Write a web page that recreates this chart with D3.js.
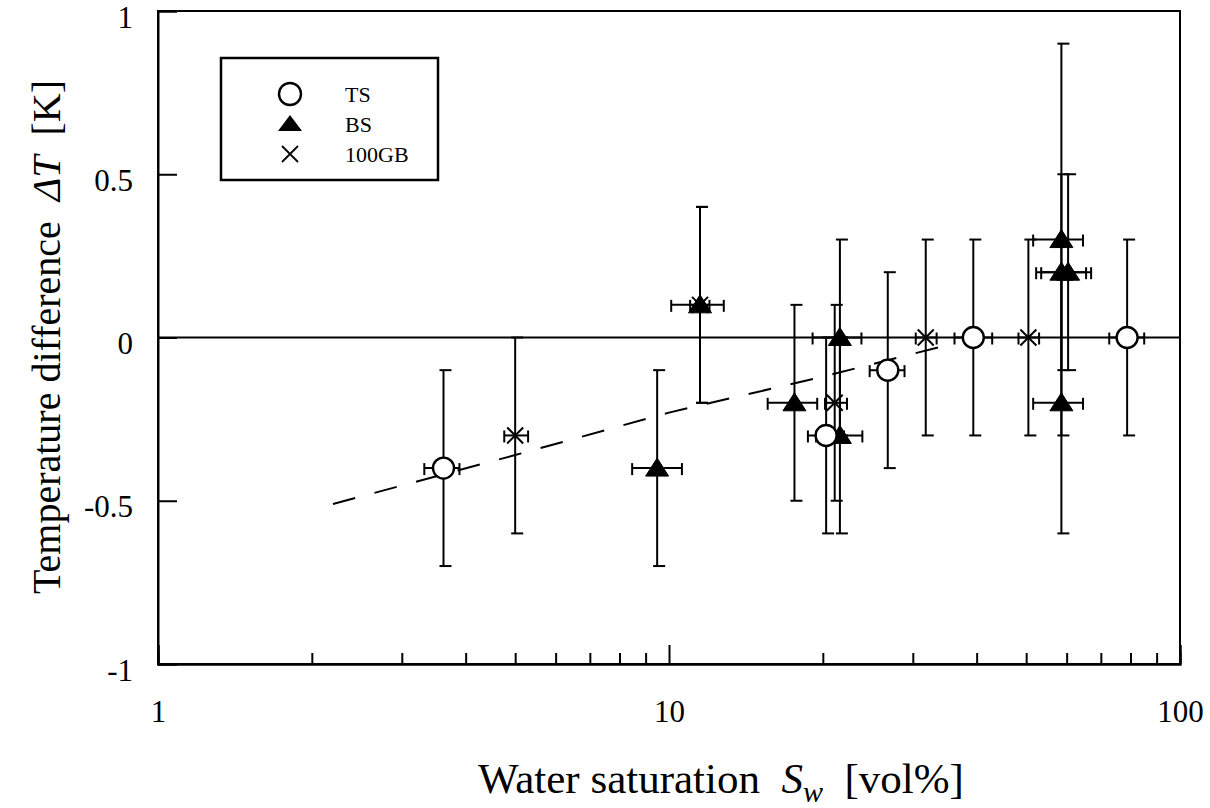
<!DOCTYPE html>
<html>
<head>
<meta charset="utf-8">
<script src="https://cdn.jsdelivr.net/npm/d3@7"></script>
<style>
html,body{margin:0;padding:0;background:#fff;}
svg{display:block;}
text{font-family:"Liberation Serif","Times New Roman",serif;fill:#000;}
</style>
</head>
<body>
<svg id="chart" width="1210" height="808"></svg>
<script>
// ---- data ----
const xTicksMajor = [1, 10, 100];
const xTickLabels = ["1", "10", "100"];
const xTicksMinor = [2,3,4,5,6,7,8,9,20,30,40,50,60,70,80,90];
const yTicks = [-1, -0.5, 0, 0.5, 1];
const yTickLabels = ["-1", "-0.5", "0", "0.5", "1"];

const seriesNames = ["TS", "BS", "100GB"];

// TS (open circles)
const tsX   = [3.62, 20.3, 26.8, 39.4, 78.8];
const tsY   = [-0.4, -0.3, -0.1, 0, 0];
const tsYLo = [-0.7, -0.6, -0.4, -0.3, -0.3];
const tsYHi = [-0.1, 0, 0.2, 0.3, 0.3];
const tsXLo = [3.32, 18.7, 24.7, 36.2, 72.7];
const tsXHi = [3.89, 22.0, 28.9, 42.9, 85.1];

// BS (filled triangles)
const bsX   = [9.48, 11.5, 17.6, 21.6, 21.6, 58.6, 58.6, 60.4, 58.6];
const bsY   = [-0.4, 0.1, -0.2, 0, -0.3, 0.3, 0.2, 0.2, -0.2];
const bsYLo = [-0.7, -0.2, -0.5, -0.3, -0.6, -0.3, -0.1, -0.1, -0.6];
const bsYHi = [-0.1, 0.4, 0.1, 0.3, 0, 0.9, 0.5, 0.5, 0.2];
const bsXLo = [8.47, 10.1, 15.6, 19.1, 19.4, 51.6, 52.3, 53.5, 51.6];
const bsXHi = [10.6, 12.8, 19.5, 23.8, 23.9, 64.6, 65.5, 67.0, 64.6];

// 100GB (crosses)
const gbX   = [5.0, 11.5, 21.1, 31.8, 50.5];
const gbY   = [-0.3, 0.1, -0.2, 0, 0];
const gbYLo = [-0.6, -0.2, -0.5, -0.3, -0.3];
const gbYHi = [0, 0.4, 0.1, 0.3, 0.3];
const gbXLo = [4.76, 11.0, 20.2, 30.4, 48.3];
const gbXHi = [5.30, 12.0, 22.3, 33.4, 53.0];

// dashed trend line
const fitX = [2.2, 5, 10, 20, 34.3];
const fitY = [-0.51, -0.36, -0.23, -0.12, -0.027];

// ---- build ----
const svg = d3.select("#chart");
const L = 158, R = 1180, T = 11, B = 664;
const x = d3.scaleLog().domain([1, 100]).range([L, R]);
const y = d3.scaleLinear().domain([-1, 1]).range([B, T]);

function pts(xs, ys, lo, hi, xl, xh) {
  return xs.map((v, i) => ({x: v, y: ys[i], ylo: lo[i], yhi: hi[i], xlo: xl[i], xhi: xh[i]}));
}
const ts = pts(tsX, tsY, tsYLo, tsYHi, tsXLo, tsXHi);
const bs = pts(bsX, bsY, bsYLo, bsYHi, bsXLo, bsXHi);
const gb = pts(gbX, gbY, gbYLo, gbYHi, gbXLo, gbXHi);

const SW = 2;
const FONT = '"Liberation Serif","Times New Roman",serif';

// frame
svg.append("rect").attr("x", L).attr("y", T).attr("width", R - L).attr("height", B - T)
  .attr("fill", "none").attr("stroke", "#000").attr("stroke-width", SW);

// x axis major
const gxMaj = svg.append("g").attr("transform", `translate(0,${B})`)
  .call(d3.axisBottom(x).tickValues(xTicksMajor).tickSize(-19)
        .tickFormat((d, i) => xTickLabels[i]));
// x axis minor
const gxMin = svg.append("g").attr("transform", `translate(0,${B})`)
  .call(d3.axisBottom(x).tickValues(xTicksMinor).tickSize(-11).tickFormat(""));
// y axis
const gy = svg.append("g").attr("transform", `translate(${L},0)`)
  .call(d3.axisLeft(y).tickValues(yTicks).tickSize(-19)
        .tickFormat((d, i) => yTickLabels[i]));

[gxMaj, gxMin, gy].forEach(g => {
  g.attr("font-family", FONT);
  g.select(".domain").attr("stroke", "#000").attr("stroke-width", SW);
  g.selectAll(".tick line").attr("stroke", "#000").attr("stroke-width", SW);
});
gxMaj.selectAll(".tick text").attr("y", 58).attr("dy", 0)
  .style("font-size", "31px").style("font-family", FONT).attr("fill", "#000");
gy.selectAll(".tick text").attr("x", -25).attr("dy", 16)
  .style("font-size", "31px").style("font-family", FONT).attr("fill", "#000");

// zero line
svg.append("line").attr("x1", L).attr("x2", R).attr("y1", y(0)).attr("y2", y(0))
  .attr("stroke", "#000").attr("stroke-width", SW);

// dashed fit
const line = d3.line().x((d, i) => x(fitX[i])).y((d, i) => y(fitY[i]));
svg.append("path").attr("d", line(fitX)).attr("fill", "none")
  .attr("stroke", "#000").attr("stroke-width", SW).attr("stroke-dasharray", "23,20");

// error bars
const gErr = svg.append("g").attr("stroke", "#000").attr("stroke-width", SW).attr("fill", "none");
function errBars(data) {
  data.forEach(d => {
    const cx = x(d.x), cy = y(d.y);
    // vertical
    gErr.append("line").attr("x1", cx).attr("x2", cx).attr("y1", y(d.ylo)).attr("y2", y(d.yhi));
    gErr.append("line").attr("x1", cx - 4).attr("x2", cx + 8).attr("y1", y(d.ylo)).attr("y2", y(d.ylo));
    gErr.append("line").attr("x1", cx - 4).attr("x2", cx + 8).attr("y1", y(d.yhi)).attr("y2", y(d.yhi));
    // horizontal
    gErr.append("line").attr("x1", x(d.xlo)).attr("x2", x(d.xhi)).attr("y1", cy).attr("y2", cy);
    gErr.append("line").attr("x1", x(d.xlo)).attr("x2", x(d.xlo)).attr("y1", cy - 5).attr("y2", cy + 7);
    gErr.append("line").attr("x1", x(d.xhi)).attr("x2", x(d.xhi)).attr("y1", cy - 5).attr("y2", cy + 7);
  });
}
errBars(ts); errBars(bs); errBars(gb);

// markers
const triPath = "M0,-10L11.5,8L-11.5,8Z";
svg.append("g").selectAll("path").data(bs).join("path")
  .attr("d", triPath).attr("transform", d => `translate(${x(d.x)},${y(d.y)})`)
  .attr("fill", "#000").attr("stroke", "#000").attr("stroke-width", 1);
svg.append("g").selectAll("circle").data(ts).join("circle")
  .attr("cx", d => x(d.x)).attr("cy", d => y(d.y)).attr("r", 10.5)
  .attr("fill", "#fff").attr("stroke", "#000").attr("stroke-width", 2.4);
const crossPath = "M-8,-8L8,8M-8,8L8,-8";
svg.append("g").selectAll("path").data(gb).join("path")
  .attr("d", crossPath).attr("transform", d => `translate(${x(d.x)},${y(d.y)})`)
  .attr("fill", "none").attr("stroke", "#000").attr("stroke-width", 2);

// legend
const lg = svg.append("g");
lg.append("rect").attr("x", 221).attr("y", 58).attr("width", 217).attr("height", 122)
  .attr("fill", "#fff").attr("stroke", "#000").attr("stroke-width", 2.5);
lg.append("circle").attr("cx", 290).attr("cy", 94).attr("r", 11)
  .attr("fill", "#fff").attr("stroke", "#000").attr("stroke-width", 2.4);
lg.append("path").attr("d", "M0,-9L12,7L-12,7Z").attr("transform", "translate(290,124)")
  .attr("fill", "#000");
lg.append("path").attr("d", "M-8,-8L8,8M-8,8L8,-8").attr("transform", "translate(290,154)")
  .attr("stroke", "#000").attr("stroke-width", 1.8).attr("fill", "none");
const legY = [102, 132, 162];
seriesNames.forEach((n, i) => {
  lg.append("text").attr("x", 345).attr("y", legY[i]).style("font-size", "22px").text(n);
});

// axis titles
const xt = svg.append("text").attr("x", 721).attr("y", 793).attr("text-anchor", "middle")
  .style("font-size", "43px").style("white-space", "pre");
xt.append("tspan").text("Water saturation  ");
xt.append("tspan").style("font-style", "italic").text("S");
xt.append("tspan").style("font-style", "italic").style("font-size", "30px").attr("dy", 9).text("w");
xt.append("tspan").attr("dy", -9).text("  [vol%]");

const yt = svg.append("text").attr("transform", "translate(60,337) rotate(-90)")
  .attr("text-anchor", "middle").style("font-size", "40px").style("white-space", "pre");
yt.append("tspan").text("Temperature difference  ");
yt.append("tspan").style("font-style", "italic").text("ΔT");
yt.append("tspan").text("  [K]");
</script>
</body>
</html>
